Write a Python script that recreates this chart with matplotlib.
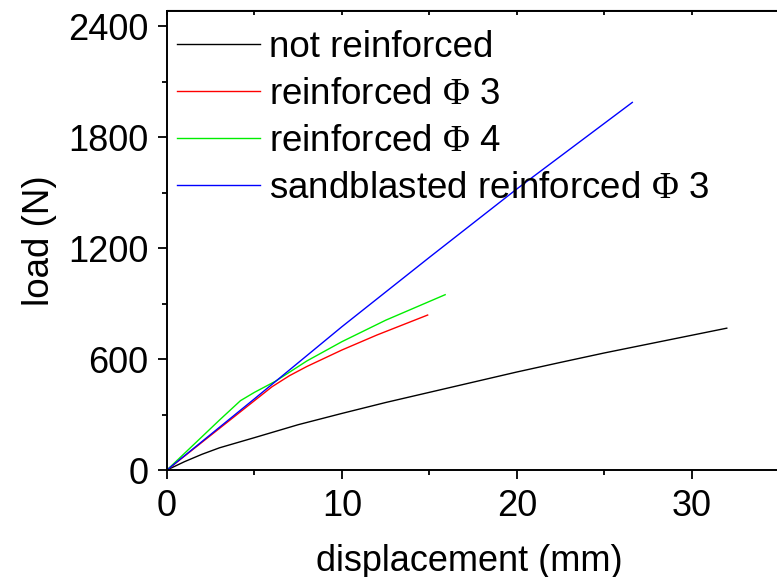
import matplotlib
matplotlib.use("Agg")
import matplotlib.pyplot as plt
from matplotlib.ticker import MultipleLocator

plt.rcParams['font.family'] = ['Liberation Sans', 'DejaVu Sans']
plt.rcParams['mathtext.fontset'] = 'custom'
plt.rcParams['mathtext.rm'] = 'Liberation Serif'
plt.rcParams['mathtext.it'] = 'Liberation Serif:italic'

# data
x_not = [0, 1, 2, 3, 5, 7.5, 10, 12.5, 15, 17.5, 20, 22.5, 25, 28.5, 32]
y_not = [0, 45, 85, 120, 175, 245, 306, 365, 420, 475, 530, 582, 633, 700, 767]

x_r3 = [0, 2, 4, 6, 7, 8, 10, 12, 14.9]
y_r3 = [0, 150, 300, 450, 510, 560, 649, 730, 838]

x_r4 = [0, 1, 2, 3, 4.2, 5, 6.2, 8, 10, 12.5, 15.9]
y_r4 = [0, 90, 180, 270, 375, 420, 480, 590, 694, 810, 948]

x_sb = [0, 5, 10, 15, 20, 26.6]
y_sb = [0, 385, 775, 1150, 1520, 1988]

labels = ['not reinforced', r'reinforced $\mathrm{\Phi}$ 3',
          r'reinforced $\mathrm{\Phi}$ 4', r'sandblasted reinforced $\mathrm{\Phi}$ 3']
colors = ['black', 'red', '#00ee00', 'blue']

fig = plt.figure(figsize=(7.77, 5.77), dpi=100)
ax = fig.add_axes([167/777, (577-470)/577, 621/777, 459.5/577])

for (xs, ys), lab, c in zip([(x_not, y_not), (x_r3, y_r3), (x_r4, y_r4), (x_sb, y_sb)], labels, colors):
    ax.plot(xs, ys, color=c, lw=1.0, label=lab)

ax.set_xlim(0, 35.5)
ax.set_ylim(0, 2485)
ax.xaxis.set_major_locator(MultipleLocator(10))
ax.xaxis.set_minor_locator(MultipleLocator(5))
ax.yaxis.set_major_locator(MultipleLocator(600))
ax.yaxis.set_minor_locator(MultipleLocator(300))
ax.tick_params(which='major', direction='out', length=6.5, width=1.3, labelsize=26, pad=7)
ax.tick_params(which='minor', direction='out', length=3.5, width=1.3)
for s in ax.spines.values():
    s.set_linewidth(1.4)
ax.spines['right'].set_visible(False)

sec = ax.secondary_xaxis('top')
sec.xaxis.set_major_locator(MultipleLocator(5))
sec.tick_params(direction='in', length=3.5, width=1.3, labeltop=False)

ax.set_xlabel('displacement (mm)', fontsize=26, labelpad=17)
ax.xaxis.set_label_coords(0.487, -0.16)
ax.xaxis.label.set_va('top')
ax.set_ylabel('load (N)', fontsize=26.5, labelpad=8)

ax.legend(loc='upper left', frameon=False, fontsize=26.5, handlelength=2.25,
          handletextpad=0.25, labelspacing=0.33, borderaxespad=0.0, borderpad=0.2,
          bbox_to_anchor=(3/621, 1 - 12/459.5))

fig.savefig('out.png', dpi=100)
